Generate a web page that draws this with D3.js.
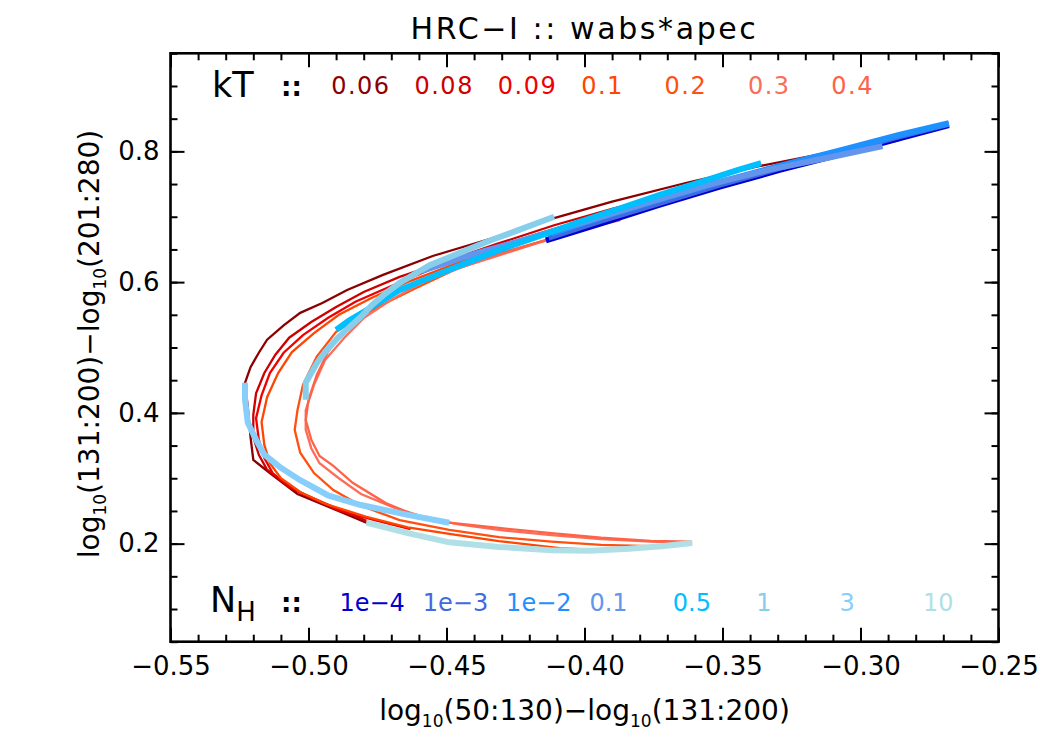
<!DOCTYPE html>
<html>
<head>
<meta charset="utf-8">
<script src="https://d3js.org/d3.v7.min.js"></script>
<style>
  body { margin: 0; background: #fff; }
  svg { display: block; }
  text { font-family: "DejaVu Sans", sans-serif; }
</style>
</head>
<body>
<svg id="chart" width="1050" height="750"></svg>
<script>
// temperature tracks (one thin line per kT, running over N_H)
const kTLabels = ["0.06", "0.08", "0.09", "0.1", "0.2", "0.3", "0.4"];
const kTColors = ["#8b0000", "#cd0000", "#ee0000", "#ff4500", "#ff5010", "#fa6e5a", "#ff6347"];

const kT006 = [[-0.268,0.842],[-0.286,0.822],[-0.307,0.802],[-0.336,0.778],[-0.363,0.752],[-0.390,0.723],[-0.411,0.698],[-0.432,0.669],[-0.455,0.640],[-0.473,0.611],[-0.486,0.588],[-0.495,0.568],[-0.503,0.553],[-0.509,0.534],[-0.515,0.512],[-0.518,0.492],[-0.521,0.470],[-0.523,0.446],[-0.522,0.409],[-0.521,0.363],[-0.520,0.328],[-0.514,0.308],[-0.504,0.276],[-0.492,0.255],[-0.479,0.232]];
const kT008 = [[-0.274,0.833],[-0.293,0.813],[-0.315,0.791],[-0.340,0.765],[-0.365,0.739],[-0.390,0.712],[-0.411,0.687],[-0.432,0.658],[-0.452,0.629],[-0.467,0.608],[-0.480,0.585],[-0.490,0.562],[-0.499,0.539],[-0.507,0.515],[-0.512,0.489],[-0.516,0.461],[-0.519,0.430],[-0.520,0.397],[-0.520,0.363],[-0.518,0.336],[-0.515,0.313],[-0.509,0.294],[-0.503,0.278],[-0.492,0.258],[-0.479,0.235]];
const kT009 = [[-0.280,0.825],[-0.300,0.805],[-0.322,0.782],[-0.347,0.756],[-0.373,0.729],[-0.394,0.703],[-0.416,0.675],[-0.438,0.646],[-0.456,0.619],[-0.470,0.594],[-0.483,0.570],[-0.493,0.545],[-0.502,0.519],[-0.509,0.492],[-0.514,0.461],[-0.517,0.427],[-0.519,0.392],[-0.518,0.359],[-0.516,0.331],[-0.513,0.308],[-0.507,0.287],[-0.499,0.270],[-0.489,0.251],[-0.476,0.236],[-0.463,0.222]];
const kT010 = [[-0.286,0.817],[-0.307,0.796],[-0.329,0.773],[-0.355,0.746],[-0.380,0.716],[-0.402,0.690],[-0.423,0.661],[-0.445,0.631],[-0.463,0.602],[-0.477,0.576],[-0.489,0.550],[-0.498,0.522],[-0.506,0.493],[-0.511,0.461],[-0.515,0.424],[-0.517,0.386],[-0.516,0.351],[-0.514,0.323],[-0.510,0.300],[-0.503,0.279],[-0.494,0.261],[-0.479,0.241],[-0.464,0.225],[-0.449,0.215],[-0.431,0.204],[-0.409,0.193],[-0.394,0.190]];
const kT020 = [[-0.358,0.738],[-0.376,0.715],[-0.394,0.692],[-0.412,0.667],[-0.431,0.643],[-0.447,0.619],[-0.461,0.591],[-0.472,0.568],[-0.481,0.548],[-0.490,0.524],[-0.497,0.486],[-0.502,0.443],[-0.504,0.404],[-0.505,0.374],[-0.503,0.339],[-0.498,0.308],[-0.491,0.282],[-0.481,0.258],[-0.467,0.236],[-0.449,0.221],[-0.431,0.210],[-0.412,0.203],[-0.394,0.198],[-0.376,0.196],[-0.361,0.201]];
const kT030 = [[-0.387,0.695],[-0.402,0.680],[-0.416,0.661],[-0.431,0.641],[-0.445,0.622],[-0.459,0.599],[-0.470,0.573],[-0.480,0.545],[-0.487,0.515],[-0.494,0.481],[-0.498,0.443],[-0.501,0.404],[-0.501,0.374],[-0.499,0.346],[-0.496,0.323],[-0.489,0.300],[-0.481,0.276],[-0.469,0.255],[-0.456,0.238],[-0.445,0.229],[-0.431,0.221],[-0.412,0.213],[-0.394,0.207],[-0.376,0.203],[-0.362,0.201]];
const kT040 = [[-0.414,0.664],[-0.429,0.646],[-0.443,0.628],[-0.458,0.606],[-0.470,0.582],[-0.479,0.556],[-0.487,0.527],[-0.493,0.493],[-0.497,0.458],[-0.500,0.420],[-0.501,0.389],[-0.499,0.359],[-0.496,0.334],[-0.491,0.319],[-0.484,0.293],[-0.472,0.262],[-0.460,0.241],[-0.449,0.232],[-0.431,0.224],[-0.412,0.216],[-0.394,0.209],[-0.376,0.204],[-0.361,0.203]];
const kTCurves = [kT006, kT008, kT009, kT010, kT020, kT030, kT040];

// absorption tracks (one thick line per N_H, running over kT)
const nhLabels = ["1e\u22124", "1e\u22123", "1e\u22122", "0.1", "0.5", "1", "3", "10"];
const nhColors = ["#0000cd", "#4169e1", "#1e90ff", "#6495ed", "#00bfff", "#87ceeb", "#87cefa", "#b0e0e6"];

const nh1em4 = [[-0.268,0.840],[-0.286,0.820],[-0.307,0.796],[-0.329,0.772],[-0.351,0.746],[-0.373,0.718],[-0.394,0.690],[-0.414,0.664]];
const nh1em3 = [[-0.268,0.842],[-0.286,0.823],[-0.307,0.799],[-0.329,0.775],[-0.351,0.749],[-0.373,0.721],[-0.394,0.694],[-0.413,0.668]];
const nh1em2 = [[-0.268,0.843],[-0.286,0.825],[-0.307,0.802],[-0.329,0.778],[-0.351,0.753],[-0.373,0.726],[-0.394,0.699],[-0.412,0.674]];
const nh01 = [[-0.292,0.808],[-0.311,0.791],[-0.333,0.772],[-0.355,0.749],[-0.376,0.723],[-0.398,0.695],[-0.420,0.667],[-0.440,0.643],[-0.459,0.617]];
const nh05 = [[-0.336,0.782],[-0.344,0.772],[-0.358,0.753],[-0.373,0.733],[-0.387,0.713],[-0.402,0.692],[-0.416,0.671],[-0.431,0.649],[-0.449,0.619],[-0.467,0.588],[-0.479,0.557],[-0.485,0.542],[-0.490,0.527]];
const nh1 = [[-0.411,0.700],[-0.423,0.681],[-0.434,0.664],[-0.441,0.652],[-0.449,0.638],[-0.456,0.626],[-0.462,0.611],[-0.467,0.599],[-0.472,0.583],[-0.477,0.565],[-0.481,0.547],[-0.486,0.528],[-0.490,0.512],[-0.494,0.493],[-0.497,0.476],[-0.499,0.461],[-0.501,0.446],[-0.501,0.420]];
const nh3 = [[-0.523,0.446],[-0.523,0.420],[-0.522,0.385],[-0.519,0.359],[-0.516,0.336],[-0.510,0.316],[-0.503,0.297],[-0.493,0.274],[-0.481,0.259],[-0.464,0.244],[-0.449,0.232]];
const nh10 = [[-0.479,0.232],[-0.464,0.216],[-0.449,0.202],[-0.431,0.195],[-0.412,0.190],[-0.398,0.189],[-0.384,0.192],[-0.372,0.196],[-0.361,0.201]];
const nhCurves = [nh1em4, nh1em3, nh1em2, nh01, nh05, nh1, nh3, nh10];

const xMajor = [-0.55, -0.50, -0.45, -0.40, -0.35, -0.30, -0.25];
const yMajor = [0.2, 0.4, 0.6, 0.8];

const svg = d3.select("#chart");
const plotL = 170.5, plotR = 998.5, plotT = 53.3, plotB = 641.7;

const x = d3.scaleLinear().domain([-0.55, -0.25]).range([plotL, plotR]);
const y = d3.scaleLinear().domain([0.05, 0.95]).range([plotB, plotT]);

const xMinor = d3.range(-0.55, -0.2499, 0.01);
const yMinor = d3.range(0.05, 0.951, 0.05);

function axisLayer(axis, tx, ty) {
  const g = svg.append("g").attr("transform", `translate(${tx},${ty})`).call(axis);
  g.select(".domain").remove();
  g.selectAll(".tick line").attr("stroke", "#000").attr("stroke-width", 2);
  return g;
}

// minor ticks on all four sides
axisLayer(d3.axisBottom(x).tickValues(xMinor).tickSize(-7).tickFormat(""), 0, plotB);
axisLayer(d3.axisTop(x).tickValues(xMinor).tickSize(-7).tickFormat(""), 0, plotT);
axisLayer(d3.axisLeft(y).tickValues(yMinor).tickSize(-7).tickFormat(""), plotL, 0);
axisLayer(d3.axisRight(y).tickValues(yMinor).tickSize(-7).tickFormat(""), plotR, 0);

// major ticks
const xb = axisLayer(d3.axisBottom(x).tickValues(xMajor).tickSize(-14).tickPadding(15).tickFormat(d3.format(".2f")), 0, plotB);
xb.selectAll("text").attr("font-size", 26).attr("font-family", "DejaVu Sans").attr("fill", "#000");
axisLayer(d3.axisTop(x).tickValues(xMajor).tickSize(-14).tickFormat(""), 0, plotT);
const yl = axisLayer(d3.axisLeft(y).tickValues(yMajor).tickSize(-14).tickPadding(11).tickFormat(d3.format(".1f")), plotL, 0);
yl.selectAll("text").attr("font-size", 26).attr("font-family", "DejaVu Sans").attr("fill", "#000");
axisLayer(d3.axisRight(y).tickValues(yMajor).tickSize(-14).tickFormat(""), plotR, 0);

svg.append("rect")
  .attr("x", plotL).attr("y", plotT)
  .attr("width", plotR - plotL).attr("height", plotB - plotT)
  .attr("fill", "none").attr("stroke", "#000").attr("stroke-width", 2.6);

const line = d3.line().x(d => x(d[0])).y(d => y(d[1]));

const curves = svg.append("g");
kTCurves.forEach((pts, i) => {
  curves.append("path")
    .attr("d", line(pts))
    .attr("fill", "none")
    .attr("stroke", kTColors[i])
    .attr("stroke-width", 2.3)
    .attr("stroke-linejoin", "miter");
});
nhCurves.forEach((pts, i) => {
  curves.append("path")
    .attr("d", line(pts))
    .attr("fill", "none")
    .attr("stroke", nhColors[i])
    .attr("stroke-width", 6)
    .attr("stroke-linejoin", "round");
});

// title
svg.append("text")
  .attr("x", (plotL + plotR) / 2).attr("y", 39)
  .attr("text-anchor", "middle")
  .attr("font-size", 30)
  .attr("letter-spacing", 2.6)
  .attr("fill", "#000")
  .text("HRC\u2212I :: wabs*apec");

// axis titles with subscripts
function logLabel(g, parts) {
  const t = g.append("text").attr("text-anchor", "middle").attr("font-size", 28).attr("fill", "#000");
  parts.forEach(p => {
    t.append("tspan").text("log");
    t.append("tspan").attr("font-size", 17).attr("dy", 7).text("10");
    t.append("tspan").attr("dy", -7).text(p);
  });
  return t;
}
logLabel(svg.append("g").attr("transform", `translate(${(plotL + plotR) / 2},720)`), ["(50:130)\u2212", "(131:200)"]);
logLabel(svg.append("g").attr("transform", "translate(99,344) rotate(-90)"), ["(131:200)\u2212", "(201:280)"]);

// kT legend row
svg.append("text").attr("x", 212).attr("y", 97).attr("font-size", 35).attr("fill", "#000").text("kT");
svg.append("text").attr("x", 281).attr("y", 96).attr("font-size", 26).attr("font-weight", "bold").attr("fill", "#000").text("::");
kTLabels.forEach((lab, i) => {
  svg.append("text")
    .attr("x", x(-0.4918 + i * 0.0302)).attr("y", 94)
    .attr("font-size", 24)
    .attr("letter-spacing", 1.5)
    .attr("fill", kTColors[i])
    .text(lab);
});

// N_H legend row
const nh = svg.append("text").attr("x", 210).attr("y", 612).attr("font-size", 35).attr("fill", "#000");
nh.append("tspan").text("N");
nh.append("tspan").attr("font-size", 26).attr("dy", 9).text("H");
svg.append("text").attr("x", 281).attr("y", 612).attr("font-size", 26).attr("font-weight", "bold").attr("fill", "#000").text("::");
nhLabels.forEach((lab, i) => {
  svg.append("text")
    .attr("x", x(-0.4888 + i * 0.0302)).attr("y", 611)
    .attr("font-size", 24)
    .attr("fill", nhColors[i])
    .text(lab);
});
</script>
</body>
</html>
